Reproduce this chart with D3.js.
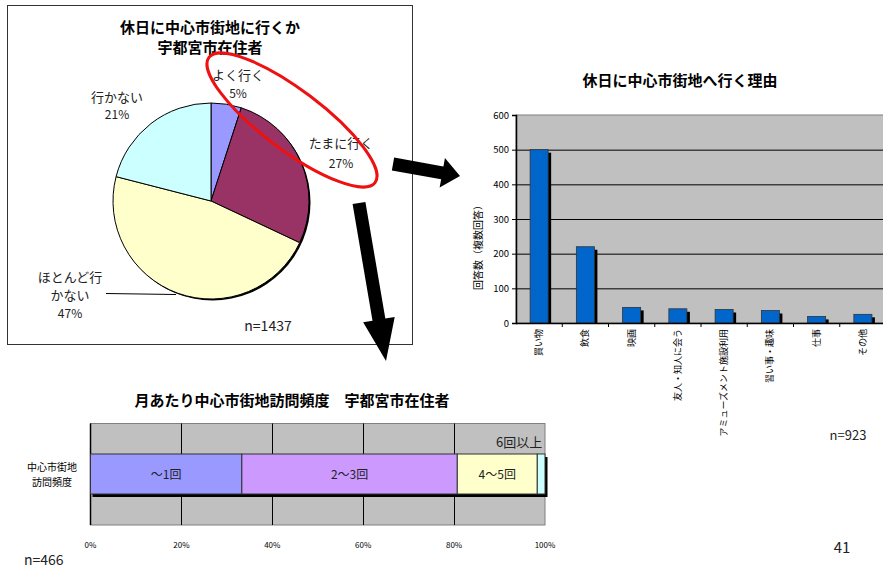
<!DOCTYPE html>
<html><head><meta charset="utf-8">
<script src="https://cdn.jsdelivr.net/npm/d3@7/dist/d3.min.js"></script>
<style>
body{margin:0;background:#fff;}
svg text{font-family:"Noto Sans CJK JP","Liberation Sans",Arial,sans-serif;}
</style></head><body>
<svg id="c" width="883" height="568"></svg>
<script>
// ---- Pie data
const pieLabels = ["よく行く","たまに行く","ほとんど行かない","行かない"];
const pieValues = [5, 27, 47, 21];
const pieColors = ["#9999FF","#993366","#FFFFCC","#CCFFFF"];
// ---- Reason bar data
const reasonCats = ["買い物","飲食","映画","友人・知人に会う","アミューズメント施設利用","習い事・趣味","仕事","その他"];
const reasonVals = [500, 220, 45, 41, 39, 36, 19, 25];
const reasonTicks = [0,100,200,300,400,500,600];
// ---- Frequency stacked bar data
const freqCats = ["～1回","2～3回","4～5回","6回以上"];
const freqVals = [33.3, 47.4, 17.6, 1.7];
const freqColors = ["#9999FF","#CC99FF","#FFFFCC","#CCFFFF"];
const freqTicks = [0,20,40,60,80,100];

const svg = d3.select("#c");
const F = '"Noto Sans CJK JP","Liberation Sans",Arial,sans-serif';

// ================= PIE PANEL =================
svg.append("rect").attr("x",7.5).attr("y",5.5).attr("width",405).attr("height",339)
  .attr("fill","#fff").attr("stroke","#333").attr("stroke-width",1);
svg.append("text").attr("x",210).attr("y",33).attr("text-anchor","middle")
  .attr("font-size",15).attr("font-weight","bold").text("休日に中心市街地に行くか");
svg.append("text").attr("x",210).attr("y",52.5).attr("text-anchor","middle")
  .attr("font-size",15).attr("font-weight","bold").text("宇都宮市在住者");

const cx=211, cy=201, r=98;
const pg = svg.append("g").attr("transform",`translate(${cx},${cy})`);
pg.append("circle").attr("cx",1.5).attr("cy",1.5).attr("r",r).attr("fill","#000");
const arcs = d3.pie().sort(null).value(d=>d)(pieValues);
const arc = d3.arc().innerRadius(0).outerRadius(r);
pg.selectAll("path.s").data(arcs).enter().append("path").attr("class","s")
  .attr("d",arc).attr("fill",(d,i)=>pieColors[i]).attr("stroke","#000").attr("stroke-width",1);

// pie labels
const pieLab = [
  {lines:["よく行く", pieValues[0]+"%"], x:238, y:[80,98]},
  {lines:["たまに行く", pieValues[1]+"%"], x:341, y:[148,168]},
  {lines:["ほとんど行","かない", pieValues[2]+"%"], x:70, y:[282,300,318]},
  {lines:["行かない", pieValues[3]+"%"], x:117, y:[102,119]}
];
pieLab.forEach(l=>{
  l.lines.forEach((t,j)=>{
    svg.append("text").attr("x",l.x).attr("y",l.y[j]).attr("text-anchor","middle")
      .attr("font-size", t.endsWith("%")?12:13).attr("fill","#222").text(t);
  });
});
svg.append("line").attr("x1",106).attr("y1",293.5).attr("x2",176).attr("y2",294.5)
  .attr("stroke","#000").attr("stroke-width",1);
svg.append("text").attr("x",268).attr("y",331).attr("text-anchor","middle")
  .attr("font-size",14).attr("fill","#222").text("n=1437");

// red ellipse
svg.append("ellipse").attr("cx",292).attr("cy",120).attr("rx",104).attr("ry",30)
  .attr("transform","rotate(37,292,120)").attr("fill","none").attr("stroke","#EE1111").attr("stroke-width",3);

// arrows
function arrow(x1,y1,x2,y2,sw,hl,hw){
  const dx=x2-x1, dy=y2-y1, L=Math.hypot(dx,dy), a=Math.atan2(dy,dx)*180/Math.PI;
  const p=[[0,-sw/2],[L-hl,-sw/2],[L-hl,-hw/2],[L,0],[L-hl,hw/2],[L-hl,sw/2],[0,sw/2]];
  svg.append("polygon").attr("points",p.map(q=>q.join(",")).join(" "))
    .attr("transform",`translate(${x1},${y1}) rotate(${a})`).attr("fill","#000");
}
arrow(393,164,460,176,13,18,30);
arrow(359,203,386,361,13,42,32);

// ================= REASON BAR CHART =================
svg.append("text").attr("x",680).attr("y",86).attr("text-anchor","middle")
  .attr("font-size",15).attr("font-weight","bold").text("休日に中心市街地へ行く理由");
const bx0=516, bx1=886, by0=323, by1=115;
const xb = d3.scaleBand().domain(reasonCats).range([bx0,bx1]).paddingInner(0.61).paddingOuter(0.305);
const yb = d3.scaleLinear().domain([0,600]).range([by0,by1]);
svg.append("rect").attr("x",bx0).attr("y",by1).attr("width",bx1-bx0).attr("height",by0-by1)
  .attr("fill","#C0C0C0").attr("stroke","#808080");
svg.append("g").selectAll("line").data(reasonTicks.filter(v=>v>0&&v<600)).enter().append("line")
  .attr("x1",bx0).attr("x2",bx1).attr("y1",d=>yb(d)+0.5).attr("y2",d=>yb(d)+0.5)
  .attr("stroke","#000").attr("stroke-width",1);
// shadows
svg.append("g").selectAll("rect").data(reasonVals).enter().append("rect")
  .attr("x",(d,i)=>xb(reasonCats[i])+3).attr("y",d=>yb(d)+3)
  .attr("width",xb.bandwidth()).attr("height",d=>by0-yb(d)-3).attr("fill","#000");
svg.append("g").selectAll("rect").data(reasonVals).enter().append("rect")
  .attr("x",(d,i)=>xb(reasonCats[i])).attr("y",d=>yb(d))
  .attr("width",xb.bandwidth()).attr("height",d=>by0-yb(d))
  .attr("fill","#0066CC").attr("stroke","#333").attr("stroke-width",0.8);
// y axis
const yAxis = svg.append("g").attr("transform",`translate(${bx0},0)`)
  .call(d3.axisLeft(yb).tickValues(reasonTicks).tickSize(4).tickPadding(3));
yAxis.select(".domain").attr("stroke","#000").attr("stroke-width",1.5);
yAxis.selectAll("text").attr("font-size",9.5).attr("fill","#000").attr("font-family",F);
// x axis
svg.append("line").attr("x1",bx0).attr("x2",bx1).attr("y1",by0+0.5).attr("y2",by0+0.5).attr("stroke","#000").attr("stroke-width",1.5);
const step = xb.step();
svg.append("g").selectAll("line").data(reasonCats).enter().append("line")
  .attr("x1",(d,i)=>bx0+i*step+step).attr("x2",(d,i)=>bx0+i*step+step)
  .attr("y1",by0).attr("y2",by0+4).attr("stroke","#000");
svg.append("g").selectAll("text").data(reasonCats).enter().append("text")
  .attr("transform",d=>`translate(${xb(d)+xb.bandwidth()/2+3},${by0+6}) rotate(-90)`)
  .attr("text-anchor","end").attr("font-size",9).attr("fill","#000").text(d=>d);
svg.append("text").attr("transform","translate(482,245) rotate(-90)").attr("text-anchor","middle")
  .attr("font-size",10).attr("fill","#000").text("回答数（複数回答）");
svg.append("text").attr("x",848).attr("y",440).attr("text-anchor","middle")
  .attr("font-size",13).attr("fill","#222").text("n=923");

// ================= FREQUENCY STACKED BAR =================
svg.append("text").attr("x",292).attr("y",406).attr("text-anchor","middle")
  .attr("font-size",15).attr("font-weight","bold").text("月あたり中心市街地訪問頻度　宇都宮市在住者");
const fx0=90.5, fx1=545, fy0=423.5, fy1=525;
const xf = d3.scaleLinear().domain([0,100]).range([fx0,fx1]);
svg.append("rect").attr("x",fx0).attr("y",fy0).attr("width",fx1-fx0).attr("height",fy1-fy0)
  .attr("fill","#C0C0C0").attr("stroke","#808080");
svg.append("g").selectAll("line").data(freqTicks.filter(v=>v>0&&v<100)).enter().append("line")
  .attr("x1",d=>Math.round(xf(d))+0.5).attr("x2",d=>Math.round(xf(d))+0.5).attr("y1",fy0).attr("y2",fy1)
  .attr("stroke","#000");
svg.append("line").attr("x1",fx0).attr("x2",fx0).attr("y1",fy0).attr("y2",fy1).attr("stroke","#000").attr("stroke-width",1.5);
const barTop=454, barH=40;
let cum=0; const segs=freqVals.map((v,i)=>{const s={i,start:cum,end:cum+v}; cum+=v; return s;});
svg.append("rect").attr("x",fx0+2).attr("y",barTop+3).attr("width",xf(cum)-fx0+0.5).attr("height",barH).attr("fill","#000");
svg.append("g").selectAll("rect").data(segs).enter().append("rect")
  .attr("x",d=>xf(d.start)).attr("y",barTop).attr("width",d=>xf(d.end)-xf(d.start)).attr("height",barH)
  .attr("fill",d=>freqColors[d.i]).attr("stroke","#333").attr("stroke-width",1);
svg.append("g").selectAll("text").data(segs.slice(0,3)).enter().append("text")
  .attr("x",d=>(xf(d.start)+xf(d.end))/2).attr("y",barTop+barH/2+4.5).attr("text-anchor","middle")
  .attr("font-size",12).attr("fill","#222").text(d=>freqCats[d.i]);
svg.append("clipPath").attr("id","fc").append("rect").attr("x",fx0).attr("y",fy0).attr("width",fx1-fx0).attr("height",fy1-fy0);
svg.append("text").attr("x",496).attr("y",447).attr("clip-path","url(#fc)")
  .attr("font-size",13).attr("fill","#222").text(freqCats[3]);
svg.append("g").selectAll("text").data(freqTicks).enter().append("text")
  .attr("x",d=>xf(d)).attr("y",548).attr("text-anchor","middle").attr("font-size",8).attr("fill","#000")
  .text(d=>d+"%");
svg.append("text").attr("x",52).attr("y",471).attr("text-anchor","middle").attr("font-size",10).attr("fill","#000").text("中心市街地");
svg.append("text").attr("x",52).attr("y",486).attr("text-anchor","middle").attr("font-size",10).attr("fill","#000").text("訪問頻度");
svg.append("text").attr("x",24).attr("y",565).attr("font-size",14).attr("fill","#222").text("n=466");
svg.append("text").attr("x",842).attr("y",553).attr("text-anchor","middle").attr("font-size",15).attr("fill","#222").text("41");
</script></body></html>
